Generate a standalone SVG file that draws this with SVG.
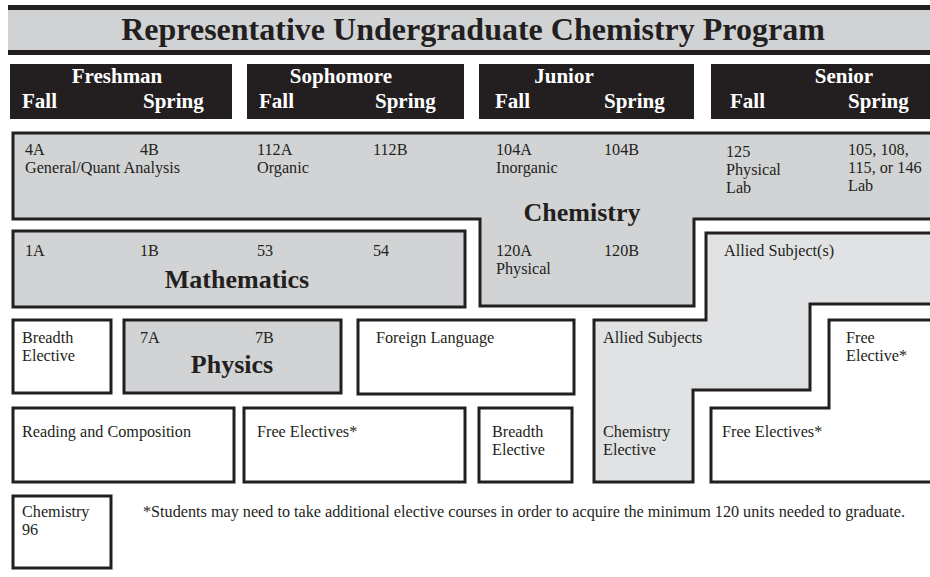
<svg xmlns="http://www.w3.org/2000/svg" width="930" height="577" viewBox="0 0 930 577">
<style>
  .bx { stroke: #231f20; stroke-width: 3; }
  .chem { fill: #d2d3d5; }
  .allied { fill: #e1e2e4; }
  .white { fill: #ffffff; }
  .t { font-family: "Liberation Serif", "Times New Roman", serif; font-size: 16.2px; fill: #231f20; }
  .big { font-family: "Liberation Serif", "Times New Roman", serif; font-size: 26px; font-weight: bold; fill: #231f20; text-anchor: middle; }
  .hd { font-family: "Liberation Serif", "Times New Roman", serif; font-size: 21px; font-weight: bold; fill: #ffffff; }
  .hdc { text-anchor: middle; }
</style>
<rect width="930" height="577" fill="#ffffff"/>
<g id="title">
  <rect x="8" y="5" width="930" height="5" fill="#231f20"/>
  <rect x="8" y="10" width="930" height="40" fill="#d1d2d4"/>
  <rect x="8" y="50" width="930" height="5" fill="#231f20"/>
  <text x="473" y="40" font-family="Liberation Serif, Times New Roman, serif" font-size="32" font-weight="bold" fill="#231f20" text-anchor="middle">Representative Undergraduate Chemistry Program</text>
</g>
<g id="hdr-freshman">
  <rect x="10" y="64" width="222" height="55" fill="#231f20"/>
  <text class="hd hdc" x="117" y="83">Freshman</text>
  <text class="hd" x="22" y="108">Fall</text>
  <text class="hd" x="143" y="108">Spring</text>
</g>
<g id="hdr-sophomore">
  <rect x="247" y="64" width="217" height="55" fill="#231f20"/>
  <text class="hd hdc" x="341" y="83">Sophomore</text>
  <text class="hd" x="259" y="108">Fall</text>
  <text class="hd" x="375" y="108">Spring</text>
</g>
<g id="hdr-junior">
  <rect x="479" y="64" width="215" height="55" fill="#231f20"/>
  <text class="hd hdc" x="564" y="83">Junior</text>
  <text class="hd" x="495" y="108">Fall</text>
  <text class="hd" x="604" y="108">Spring</text>
</g>
<g id="hdr-senior">
  <rect x="711" y="64" width="225" height="55" fill="#231f20"/>
  <text class="hd hdc" x="844" y="83">Senior</text>
  <text class="hd" x="730" y="108">Fall</text>
  <text class="hd" x="848" y="108">Spring</text>
</g>
<g id="chemistry">
  <path class="bx chem" d="M13,133 H936 V219 H694 V306 H480 V219 H13 Z"/>
  <text class="t" x="25" y="155">4A</text>
  <text class="t" x="25" y="173">General/Quant Analysis</text>
  <text class="t" x="140" y="155">4B</text>
  <text class="t" x="257" y="155">112A</text>
  <text class="t" x="257" y="173">Organic</text>
  <text class="t" x="373" y="155">112B</text>
  <text class="t" x="496" y="155">104A</text>
  <text class="t" x="496" y="173">Inorganic</text>
  <text class="t" x="604" y="155">104B</text>
  <text class="t" x="726" y="157">125</text>
  <text class="t" x="726" y="175">Physical</text>
  <text class="t" x="726" y="193">Lab</text>
  <text class="t" x="848" y="155">105, 108,</text>
  <text class="t" x="848" y="173">115, or 146</text>
  <text class="t" x="848" y="191">Lab</text>
  <text class="big" x="582" y="221">Chemistry</text>
  <text class="t" x="496" y="256">120A</text>
  <text class="t" x="496" y="274">Physical</text>
  <text class="t" x="604" y="256">120B</text>
</g>
<g id="mathematics">
  <rect class="bx chem" x="13" y="231" width="452" height="76"/>
  <text class="t" x="25" y="256">1A</text>
  <text class="t" x="140" y="256">1B</text>
  <text class="t" x="257" y="256">53</text>
  <text class="t" x="373" y="256">54</text>
  <text class="big" x="237" y="288">Mathematics</text>
</g>
<g id="allied-subjects">
  <path class="bx allied" d="M706,233 H936 V304 H810 V390 H693 V482 H594 V320 H706 Z"/>
  <text class="t" x="724" y="256">Allied Subject(s)</text>
  <text class="t" x="603" y="343">Allied Subjects</text>
  <text class="t" x="603" y="437">Chemistry</text>
  <text class="t" x="603" y="455">Elective</text>
</g>
<g id="free-elective-senior">
  <path class="bx white" d="M829,320 H936 V482 H711 V408 H829 Z"/>
  <text class="t" x="846" y="343">Free</text>
  <text class="t" x="846" y="361">Elective*</text>
  <text class="t" x="722" y="437">Free Electives*</text>
</g>
<g id="breadth-elective-1">
  <rect class="bx white" x="13" y="320" width="98" height="73"/>
  <text class="t" x="22" y="343">Breadth</text>
  <text class="t" x="22" y="361">Elective</text>
</g>
<g id="physics">
  <rect class="bx chem" x="124" y="320" width="217" height="73"/>
  <text class="t" x="140" y="343">7A</text>
  <text class="t" x="255" y="343">7B</text>
  <text class="big" x="232" y="373">Physics</text>
</g>
<g id="foreign-language">
  <rect class="bx white" x="358" y="320" width="216" height="74"/>
  <text class="t" x="376" y="343">Foreign Language</text>
</g>
<g id="reading-composition">
  <rect class="bx white" x="13" y="408" width="221" height="74"/>
  <text class="t" x="22" y="437">Reading and Composition</text>
</g>
<g id="free-electives">
  <rect class="bx white" x="244" y="408" width="221" height="74"/>
  <text class="t" x="257" y="437">Free Electives*</text>
</g>
<g id="breadth-elective-2">
  <rect class="bx white" x="479" y="408" width="93" height="74"/>
  <text class="t" x="492" y="437">Breadth</text>
  <text class="t" x="492" y="455">Elective</text>
</g>
<g id="chemistry-96">
  <rect class="bx white" x="13" y="496" width="98" height="72"/>
  <text class="t" x="22" y="517">Chemistry</text>
  <text class="t" x="22" y="535">96</text>
</g>
<g id="footnote">
  <text class="t" x="143" y="517">*Students may need to take additional elective courses in order to acquire the minimum 120 units needed to graduate.</text>
</g>
<g id="connectors"/>
</svg>
